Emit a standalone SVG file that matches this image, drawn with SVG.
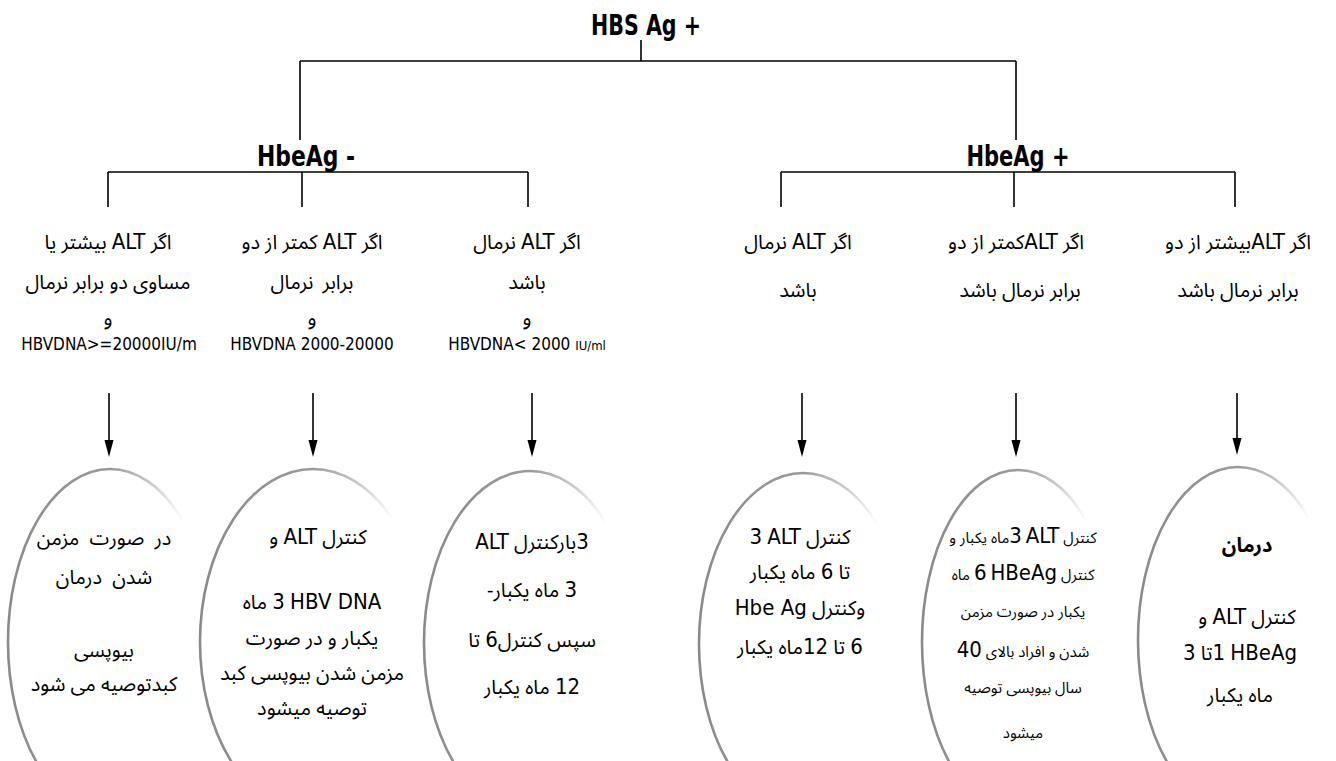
<svg xmlns="http://www.w3.org/2000/svg" width="1336" height="761" viewBox="0 0 1336 761">
<style>
  .bg{fill:#fff}
  .hd{font-family:'Liberation Sans Narrow','DejaVu Sans Condensed','Liberation Sans',sans-serif;font-weight:bold;font-size:29px;fill:#000;text-anchor:middle}
  .P{font-family:'Noto Sans Arabic UI','DejaVu Sans',sans-serif;font-size:20px;fill:#000;text-anchor:middle}
  .Ps{font-family:'Noto Sans Arabic UI','DejaVu Sans',sans-serif;font-size:15px;fill:#000;text-anchor:middle}
  .L{font-family:'Liberation Sans Narrow','DejaVu Sans Condensed','Liberation Sans',sans-serif;font-size:22px}
  .Lm{font-family:'Liberation Sans Narrow','DejaVu Sans Condensed','Liberation Sans',sans-serif;font-size:17px;fill:#000;text-anchor:middle}
  .ln{stroke:#000;stroke-width:1.6;fill:none}
  .el{fill:none;stroke:url(#rim);stroke-width:2.6}
</style>
<defs>
  <linearGradient id="rim" x1="0" y1="0" x2="1" y2="0">
    <stop offset="0" stop-color="#8a8a8a"/>
    <stop offset="0.5" stop-color="#9a9a9a"/>
    <stop offset="0.72" stop-color="#cfcfcf"/>
    <stop offset="0.86" stop-color="#ffffff"/>
  </linearGradient>
</defs>
<rect class="bg" x="0" y="0" width="1336" height="761"/>

<g id="connectors">
  <path class="ln" d="M641,40 V61 M300,61 H1016 M300,61 V140 M1016,61 V140"/>
  <path class="ln" d="M108,172 H528 M108,172 V207 M302,172 V207 M528,172 V207"/>
  <path class="ln" d="M781,172 H1235 M781,172 V207 M1014,172 V207 M1235,172 V207"/>
  <g fill="#000">
    <path class="ln" d="M109,393 V442"/><polygon points="104.5,440 113.5,440 109,457"/>
    <path class="ln" d="M313,393 V442"/><polygon points="308.5,440 317.5,440 313,457"/>
    <path class="ln" d="M532,393 V442"/><polygon points="527.5,440 536.5,440 532,457"/>
    <path class="ln" d="M802,393 V442"/><polygon points="797.5,440 806.5,440 802,457"/>
    <path class="ln" d="M1016,393 V442"/><polygon points="1011.5,440 1020.5,440 1016,457"/>
    <path class="ln" d="M1237,393 V440"/><polygon points="1232.5,438 1241.5,438 1237,455"/>
  </g>
</g>

<g id="root"><text class="hd" x="646" y="35" textLength="110" lengthAdjust="spacingAndGlyphs">HBS Ag +</text></g>
<g id="hbeag-neg"><text class="hd" x="306" y="166" textLength="98" lengthAdjust="spacingAndGlyphs">HbeAg -</text></g>
<g id="hbeag-pos"><text class="hd" x="1018" y="166" textLength="103" lengthAdjust="spacingAndGlyphs">HbeAg +</text></g>

<g id="cond-neg-high">
  <text class="P" x="108" y="249" direction="rtl">اگر  <tspan class="L">ALT</tspan> بیشتر یا</text>
  <text class="P" x="108" y="289" direction="rtl">مساوی دو برابر نرمال</text>
  <text class="P" x="108" y="325" direction="rtl">و</text>
  <text class="Lm" x="109" y="350">HBVDNA&gt;=20000IU/m</text>
</g>
<g id="cond-neg-mid">
  <text class="P" x="312" y="249" direction="rtl">اگر <tspan class="L">ALT</tspan> کمتر از دو</text>
  <text class="P" x="312" y="289" direction="rtl" word-spacing="4">برابر نرمال</text>
  <text class="P" x="312" y="325" direction="rtl">و</text>
  <text class="Lm" x="312" y="350">HBVDNA 2000-20000</text>
</g>
<g id="cond-neg-normal">
  <text class="P" x="527" y="249" direction="rtl">اگر  <tspan class="L">ALT</tspan> نرمال</text>
  <text class="P" x="527" y="289" direction="rtl">باشد</text>
  <text class="P" x="527" y="325" direction="rtl">و</text>
  <text class="Lm" x="527" y="350">HBVDNA&lt; 2000 <tspan font-size="13">IU/ml</tspan></text>
</g>
<g id="cond-pos-normal">
  <text class="P" x="798" y="249" direction="rtl">اگر  <tspan class="L">ALT</tspan> نرمال</text>
  <text class="P" x="798" y="297" direction="rtl">باشد</text>
</g>
<g id="cond-pos-mid">
  <text class="P" x="1016" y="249" direction="rtl">اگر  <tspan class="L">ALT</tspan>کمتر از دو</text>
  <text class="P" x="1020" y="297" direction="rtl">برابر نرمال باشد</text>
</g>
<g id="cond-pos-high">
  <text class="P" x="1238" y="249" direction="rtl">اگر  <tspan class="L">ALT</tspan>بیشتر از دو</text>
  <text class="P" x="1238" y="297" direction="rtl">برابر نرمال باشد</text>
</g>

<g id="out-1">
  <ellipse class="el" cx="110" cy="642" rx="102" ry="173"/>
  <text class="P" x="104" y="545" direction="rtl" font-size="21" word-spacing="5">در صورت مزمن</text>
  <text class="P" x="104" y="584" direction="rtl" font-size="21" word-spacing="5">شدن درمان</text>
  <text class="P" x="104" y="657" direction="rtl" font-size="21">بیوپسی</text>
  <text class="P" x="104" y="691" direction="rtl" font-size="21">کبدتوصیه می شود</text>
</g>
<g id="out-2">
  <ellipse class="el" cx="313" cy="642" rx="113" ry="173"/>
  <text class="P" x="318" y="544" direction="rtl" font-size="15">کنترل <tspan class="L">ALT</tspan> و</text>
  <text class="P" x="312" y="609" direction="rtl" font-size="14"><tspan class="L">HBV DNA</tspan> &#x200F;<tspan class="L">3</tspan> ماه</text>
  <text class="P" x="312" y="645" direction="rtl" font-size="18">یکبار و در صورت</text>
  <text class="P" x="312" y="680" direction="rtl" font-size="18">مزمن شدن بیوپسی کبد</text>
  <text class="P" x="312" y="715" direction="rtl" font-size="18">توصیه میشود</text>
</g>
<g id="out-3">
  <ellipse class="el" cx="530" cy="643" rx="106" ry="172"/>
  <text class="P" x="532" y="549" direction="rtl" font-size="19"><tspan class="L">3</tspan>بارکنترل <tspan class="L">ALT</tspan></text>
  <text class="P" x="532" y="597" direction="rtl" font-size="19"><tspan class="L">3</tspan> ماه یکبار-</text>
  <text class="P" x="532" y="647" direction="rtl" font-size="19">سپس کنترل<tspan class="L">6</tspan> تا</text>
  <text class="P" x="532" y="694" direction="rtl" font-size="19"><tspan class="L">12</tspan> ماه یکبار</text>
</g>
<g id="out-4">
  <ellipse class="el" cx="803" cy="644" rx="104" ry="171"/>
  <text class="P" x="800" y="544" direction="rtl" font-size="19">کنترل  <tspan class="L">ALT</tspan> &#x200F;<tspan class="L">3</tspan></text>
  <text class="P" x="800" y="579" direction="rtl" font-size="19">تا <tspan class="L">6</tspan> ماه یکبار</text>
  <text class="P" x="800" y="615" direction="rtl" font-size="19">وکنترل <tspan class="L">Hbe Ag</tspan></text>
  <text class="P" x="800" y="654" direction="rtl" font-size="19"><tspan class="L">6</tspan> تا <tspan class="L">12</tspan>ماه یکبار</text>
</g>
<g id="out-5">
  <ellipse class="el" cx="1018" cy="642" rx="96" ry="172"/>
  <text class="Ps" x="1023" y="543" direction="rtl">کنترل <tspan class="L" font-size="17">ALT</tspan> &#x200F;<tspan class="L" font-size="17">3</tspan>ماه یکبار و</text>
  <text class="Ps" x="1023" y="580" direction="rtl">کنترل  <tspan class="L" font-size="17">HBeAg</tspan> &#x200F;<tspan class="L" font-size="17">6</tspan> ماه</text>
  <text class="Ps" x="1023" y="617" direction="rtl">یکبار در صورت مزمن</text>
  <text class="Ps" x="1023" y="657" direction="rtl">شدن و افراد بالای <tspan class="L" font-size="17">40</tspan></text>
  <text class="Ps" x="1023" y="693" direction="rtl">سال بیوپسی توصیه</text>
  <text class="Ps" x="1023" y="738" direction="rtl">میشود</text>
</g>
<g id="out-6">
  <ellipse class="el" cx="1238" cy="640" rx="100" ry="173"/>
  <text class="P" x="1247" y="552" direction="rtl" font-weight="bold">درمان</text>
  <text class="P" x="1247" y="624" direction="rtl">کنترل <tspan class="L">ALT</tspan> و</text>
  <text class="P" x="1240" y="660" direction="rtl"><tspan class="L">HBeAg</tspan> &#x200F;<tspan class="L">1</tspan>تا <tspan class="L">3</tspan></text>
  <text class="P" x="1240" y="702" direction="rtl">ماه یکبار</text>
</g>
</svg>
